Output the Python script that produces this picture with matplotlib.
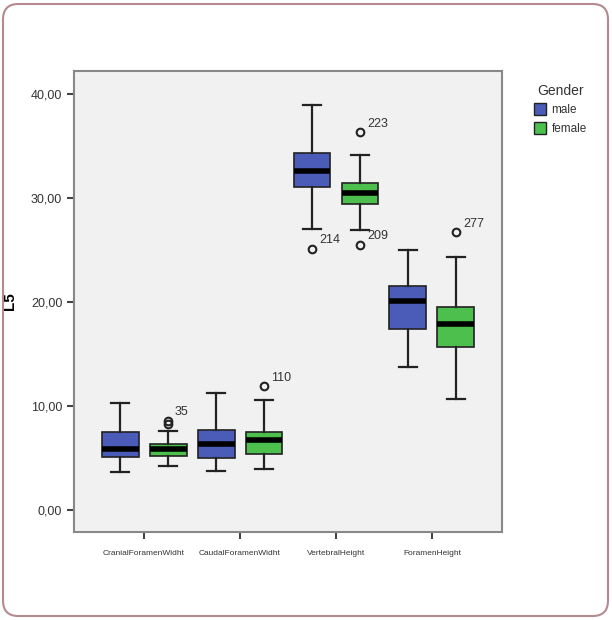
import matplotlib
matplotlib.use("Agg")
import matplotlib.pyplot as plt
from matplotlib.patches import FancyBboxPatch, Patch

plt.rcParams['font.family'] = ['Liberation Sans', 'DejaVu Sans']

categories = ["CranialForamenWidht", "CaudalForamenWidht", "VertebralHeight", "ForamenHeight"]

# box stats: whislo, q1, median, q3, whishi
male_lo = [3.7, 3.8, 27.0, 13.8]
male_q1 = [5.1, 5.0, 31.1, 17.4]
male_med = [5.9, 6.4, 32.6, 20.1]
male_q3 = [7.5, 7.7, 34.3, 21.5]
male_hi = [10.3, 11.3, 38.9, 25.0]

female_lo = [4.2, 4.0, 26.9, 10.7]
female_q1 = [5.2, 5.4, 29.4, 15.7]
female_med = [5.9, 6.7, 30.5, 17.9]
female_q3 = [6.4, 7.5, 31.4, 19.5]
female_hi = [7.6, 10.6, 34.1, 24.3]

male_out = [[], [], [25.1], []]
female_out = [[8.3, 8.6], [11.9], [36.3, 25.5], [26.7]]

# outlier labels: (category index, value, text)
male_lbl = [(2, 25.1, "214")]
female_lbl = [(0, 8.6, "35"), (1, 11.9, "110"), (2, 36.3, "223"), (2, 25.5, "209"), (3, 26.7, "277")]

blue = "#4a5bb8"
green = "#4cbf4c"

fig = plt.figure(figsize=(6.12, 6.2), dpi=100)
fig.patch.set_facecolor("white")

border = FancyBboxPatch((3 / 612, 4 / 620), 605 / 612, 612 / 620,
                        boxstyle="round,pad=0,rounding_size=0.025",
                        transform=fig.transFigure, fill=False,
                        edgecolor="#b48a90", linewidth=1.5)
fig.patches.append(border)

ax = fig.add_axes([74 / 612, 1 - 532 / 620, 428 / 612, 461 / 620])
ax.set_facecolor("#f1f1f1")


def make_stats(lo, q1, med, q3, hi, out):
    st = []
    for i in range(len(lo)):
        st.append({"whislo": lo[i], "q1": q1[i], "med": med[i], "q3": q3[i],
                   "whishi": hi[i], "fliers": out[i]})
    return st


off = 0.25
w = 0.385
for stats, shift, col in [(make_stats(male_lo, male_q1, male_med, male_q3, male_hi, male_out), -off, blue),
                          (make_stats(female_lo, female_q1, female_med, female_q3, female_hi, female_out), off, green)]:
    pos = [i + shift for i in range(len(categories))]
    ax.bxp(stats, positions=pos, widths=w, patch_artist=True, showfliers=True,
           boxprops=dict(facecolor=col, edgecolor="#222222", linewidth=1.2),
           medianprops=dict(color="black", linewidth=4.0),
           whiskerprops=dict(color="#222222", linewidth=1.6),
           capprops=dict(color="#222222", linewidth=1.6),
           capwidths=w * 0.5,
           flierprops=dict(marker="o", markerfacecolor="none", markeredgecolor="#222222",
                           markeredgewidth=1.5, markersize=5.5))

for i, v, t in male_lbl:
    ax.annotate(t, (i - off, v), xytext=(5, 4), textcoords="offset points",
                fontsize=9, color="#333333")
for i, v, t in female_lbl:
    ax.annotate(t, (i + off, v), xytext=(5, 4), textcoords="offset points",
                fontsize=9, color="#333333")

ax.set_xlim(-0.73, 3.73)
ax.set_ylim(-2.1, 42.2)
ax.set_yticks([0, 10, 20, 30, 40])
ax.set_yticklabels(["0,00", "10,00", "20,00", "30,00", "40,00"], fontsize=9, color="#333333")
ax.set_xticks(range(len(categories)))
ax.set_xticklabels(categories, fontsize=6, color="#333333")
ax.tick_params(axis="both", length=5, width=1.5, color="#444444")
ax.tick_params(axis="x", pad=8)
for s in ax.spines.values():
    s.set_color("#888888")
    s.set_linewidth(1.5)
ax.set_ylabel("L5", fontsize=11, fontweight="bold", labelpad=10)

handles = [Patch(facecolor=blue, edgecolor="#222222", label="male"),
           Patch(facecolor=green, edgecolor="#222222", label="female")]
leg = fig.legend(handles=handles, title="Gender", loc="upper left",
                 bbox_to_anchor=(528 / 612, 1 - 78 / 620), frameon=False,
                 fontsize=8.5, title_fontsize=10, handlelength=1.0, handleheight=1.2,
                 handletextpad=0.5, labelspacing=0.45, borderpad=0)
for t in leg.get_texts():
    t.set_color("#333333")
leg.get_title().set_color("#333333")

fig.savefig("out.png", dpi=100, facecolor="white")
